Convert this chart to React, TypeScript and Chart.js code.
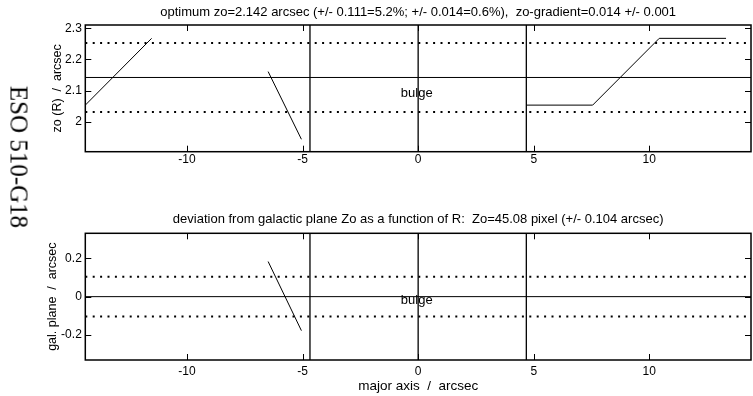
import React, { useEffect, useRef } from "react";
import { Chart, registerables } from "chart.js";

Chart.register(...registerables);

const FONT = '"Liberation Sans", Arial, Helvetica, sans-serif';

// ---- shared x axis ----
const xRange = [-14.4, 14.4];
const xTickValues = [-10, -5, 0, 5, 10];
const bulgeEdges = [-4.68, 0, 4.68];
const galaxyName = "ESO 510-G18";
const xAxisTitle = "major axis  /  arcsec";
const bulgeLabel = "bulge";

// ---- top panel: zo(R) ----
const zoTitle =
  "optimum zo=2.142 arcsec (+/- 0.111=5.2%; +/- 0.014=0.6%),  zo-gradient=0.014 +/- 0.001";
const zoAxisTitle = "zo (R)  /  arcsec";
const zoOptimum = 2.142;
const zoBand = [2.031, 2.253];
const zoYRange = [1.903, 2.311];
const zoYTicks = [2, 2.1, 2.2, 2.3];
const zoSeg1X = [-14.4, -11.53];
const zoSeg1Y = [2.053, 2.268];
const zoSeg2X = [-6.49, -5.05];
const zoSeg2Y = [2.161, 1.943];
const zoSeg3X = [4.68, 7.55, 10.43, 13.32];
const zoSeg3Y = [2.053, 2.053, 2.268, 2.268];
const zoLabelPos = [-0.75, 2.08];

// ---- bottom panel: deviation ----
const devTitle =
  "deviation from galactic plane Zo as a function of R:  Zo=45.08 pixel (+/- 0.104 arcsec)";
const devAxisTitle = "gal. plane  /  arcsec";
const devZero = 0;
const devBand = [-0.104, 0.104];
const devYRange = [-0.33, 0.33];
const devYTicks = [-0.2, 0, 0.2];
const devSegX = [-6.49, -5.05];
const devSegY = [0.183, -0.177];
const devLabelPos = [-0.75, -0.038];

const pts = (xs: number[], ys: number[]) => xs.map((x, i) => ({ x, y: ys[i] }));

const framePlugin = {
  id: "frame",
  afterDatasetsDraw(chart: any, _args: any, opts: any) {
    const { ctx, chartArea: a, scales } = chart;
    ctx.save();
    ctx.strokeStyle = "#000";
    ctx.lineWidth = 1.5;
    ctx.strokeRect(a.left, a.top, a.right - a.left, a.bottom - a.top);
    ctx.lineWidth = 1;
    const L = 6;
    ctx.beginPath();
    for (const v of opts.xTicks) {
      const px = Math.round(scales.x.getPixelForValue(v)) + 0.5;
      ctx.moveTo(px, a.bottom);
      ctx.lineTo(px, a.bottom - L);
      ctx.moveTo(px, a.top);
      ctx.lineTo(px, a.top + L);
    }
    for (const v of opts.yTicks) {
      const py = Math.round(scales.y.getPixelForValue(v)) + 0.5;
      ctx.moveTo(a.left, py);
      ctx.lineTo(a.left + L, py);
      ctx.moveTo(a.right, py);
      ctx.lineTo(a.right - L, py);
    }
    ctx.stroke();
    ctx.font = `13px ${FONT}`;
    ctx.fillStyle = "#000";
    ctx.textAlign = "left";
    ctx.textBaseline = "alphabetic";
    ctx.fillText(
      opts.label,
      scales.x.getPixelForValue(opts.labelPos[0]),
      scales.y.getPixelForValue(opts.labelPos[1])
    );
    ctx.restore();
  },
};

type PanelProps = {
  title: string;
  titlePad: { top: number; bottom: number };
  yTitle: string;
  yTitlePad: number;
  yRange: number[];
  yTicks: number[];
  center: number;
  band: number[];
  segments: { x: number; y: number }[][];
  labelPos: number[];
  xTitle?: string;
  xAxisHeight: number;
  xTickPad: number;
  bottomPad: number;
};

function Panel(p: PanelProps) {
  const ref = useRef<HTMLCanvasElement | null>(null);
  useEffect(() => {
    if (!ref.current) return;
    const line = (data: any[], extra: any = {}) => ({
      data,
      showLine: true,
      borderColor: "#000",
      backgroundColor: "#000",
      borderWidth: 1,
      pointRadius: 0,
      ...extra,
    });
    const datasets: any[] = [];
    for (const v of bulgeEdges) {
      datasets.push(line([{ x: v, y: p.yRange[0] }, { x: v, y: p.yRange[1] }], { borderWidth: 1.3 }));
    }
    datasets.push(line([{ x: xRange[0], y: p.center }, { x: xRange[1], y: p.center }]));
    for (const b of p.band) {
      datasets.push(
        line([{ x: xRange[0], y: b }, { x: xRange[1], y: b }], {
          borderWidth: 2,
          borderDash: [2, 5.4],
        })
      );
    }
    for (const s of p.segments) datasets.push(line(s));

    const chart = new Chart(ref.current, {
      type: "scatter",
      data: { datasets },
      plugins: [framePlugin as any],
      options: {
        animation: false,
        responsive: false,
        maintainAspectRatio: false,
        devicePixelRatio: 1,
        layout: { padding: { left: 0, right: 2, top: 0, bottom: p.bottomPad } },
        plugins: {
          legend: { display: false },
          tooltip: { enabled: false },
          title: {
            display: true,
            text: p.title,
            fullSize: false,
            color: "#000",
            font: { family: FONT, size: 13, weight: "normal" },
            padding: p.titlePad,
          },
          frame: {
            xTicks: xTickValues,
            yTicks: p.yTicks,
            label: bulgeLabel,
            labelPos: p.labelPos,
          },
        } as any,
        scales: {
          x: {
            type: "linear",
            min: xRange[0],
            max: xRange[1],
            grid: { display: false, drawTicks: false },
            border: { display: false },
            afterBuildTicks: (s: any) => {
              s.ticks = xTickValues.map((v) => ({ value: v }));
            },
            afterFit: (s: any) => {
              s.height = p.xAxisHeight;
            },
            ticks: {
              color: "#000",
              font: { family: FONT, size: 12 },
              padding: p.xTickPad,
              maxRotation: 0,
              callback: (v: any) => String(v),
            },
            title: p.xTitle
              ? {
                  display: true,
                  text: p.xTitle,
                  color: "#000",
                  font: { family: FONT, size: 13.5 },
                  padding: { top: 0, bottom: 1.9 },
                }
              : { display: false },
          },
          y: {
            type: "linear",
            min: p.yRange[0],
            max: p.yRange[1],
            grid: { display: false, drawTicks: false },
            border: { display: false },
            afterBuildTicks: (s: any) => {
              s.ticks = p.yTicks.map((v) => ({ value: v }));
            },
            afterFit: (s: any) => {
              s.width = 85.3;
            },
            ticks: {
              color: "#000",
              font: { family: FONT, size: 12 },
              padding: 3.5,
              callback: (v: any) => String(v),
            },
            title: {
              display: true,
              text: p.yTitle,
              color: "#000",
              font: { family: FONT, size: 12.5 },
              padding: { top: p.yTitlePad, bottom: 0 },
            },
          },
        },
      } as any,
    });
    return () => chart.destroy();
  }, []);
  return (
    <canvas
      ref={ref}
      width={753}
      height={198}
      style={{ display: "block", width: 753, height: 198 }}
    />
  );
}

export default function App() {
  return (
    <div
      style={{
        position: "absolute",
        left: 0,
        top: 0,
        width: 753,
        height: 396,
        background: "#fff",
        overflow: "hidden",
      }}
    >
      <Panel
        title={zoTitle}
        titlePad={{ top: 4.2, bottom: 5.2 }}
        yTitle={zoAxisTitle}
        yTitlePad={49.8}
        yRange={zoYRange}
        yTicks={zoYTicks}
        center={zoOptimum}
        band={zoBand}
        segments={[pts(zoSeg1X, zoSeg1Y), pts(zoSeg2X, zoSeg2Y), pts(zoSeg3X, zoSeg3Y)]}
        labelPos={zoLabelPos}
        xAxisHeight={20}
        xTickPad={0.6}
        bottomPad={198 - 151.7 - 20}
      />
      <Panel
        title={devTitle}
        titlePad={{ top: 13.2, bottom: 6.5 }}
        yTitle={devAxisTitle}
        yTitlePad={44.8}
        yRange={devYRange}
        yTicks={devYTicks}
        center={devZero}
        band={devBand}
        segments={[pts(devSegX, devSegY)]}
        labelPos={devLabelPos}
        xTitle={xAxisTitle}
        xAxisHeight={36}
        xTickPad={4}
        bottomPad={0}
      />
      <div
        style={{
          position: "absolute",
          left: 18.5,
          top: 157,
          transform: "translate(-50%, -50%) rotate(90deg)",
          fontFamily: '"Liberation Serif", "Times New Roman", serif',
          fontSize: 25,
          lineHeight: "25px",
          whiteSpace: "nowrap",
          color: "#000",
        }}
      >
        {galaxyName}
      </div>
    </div>
  );
}
